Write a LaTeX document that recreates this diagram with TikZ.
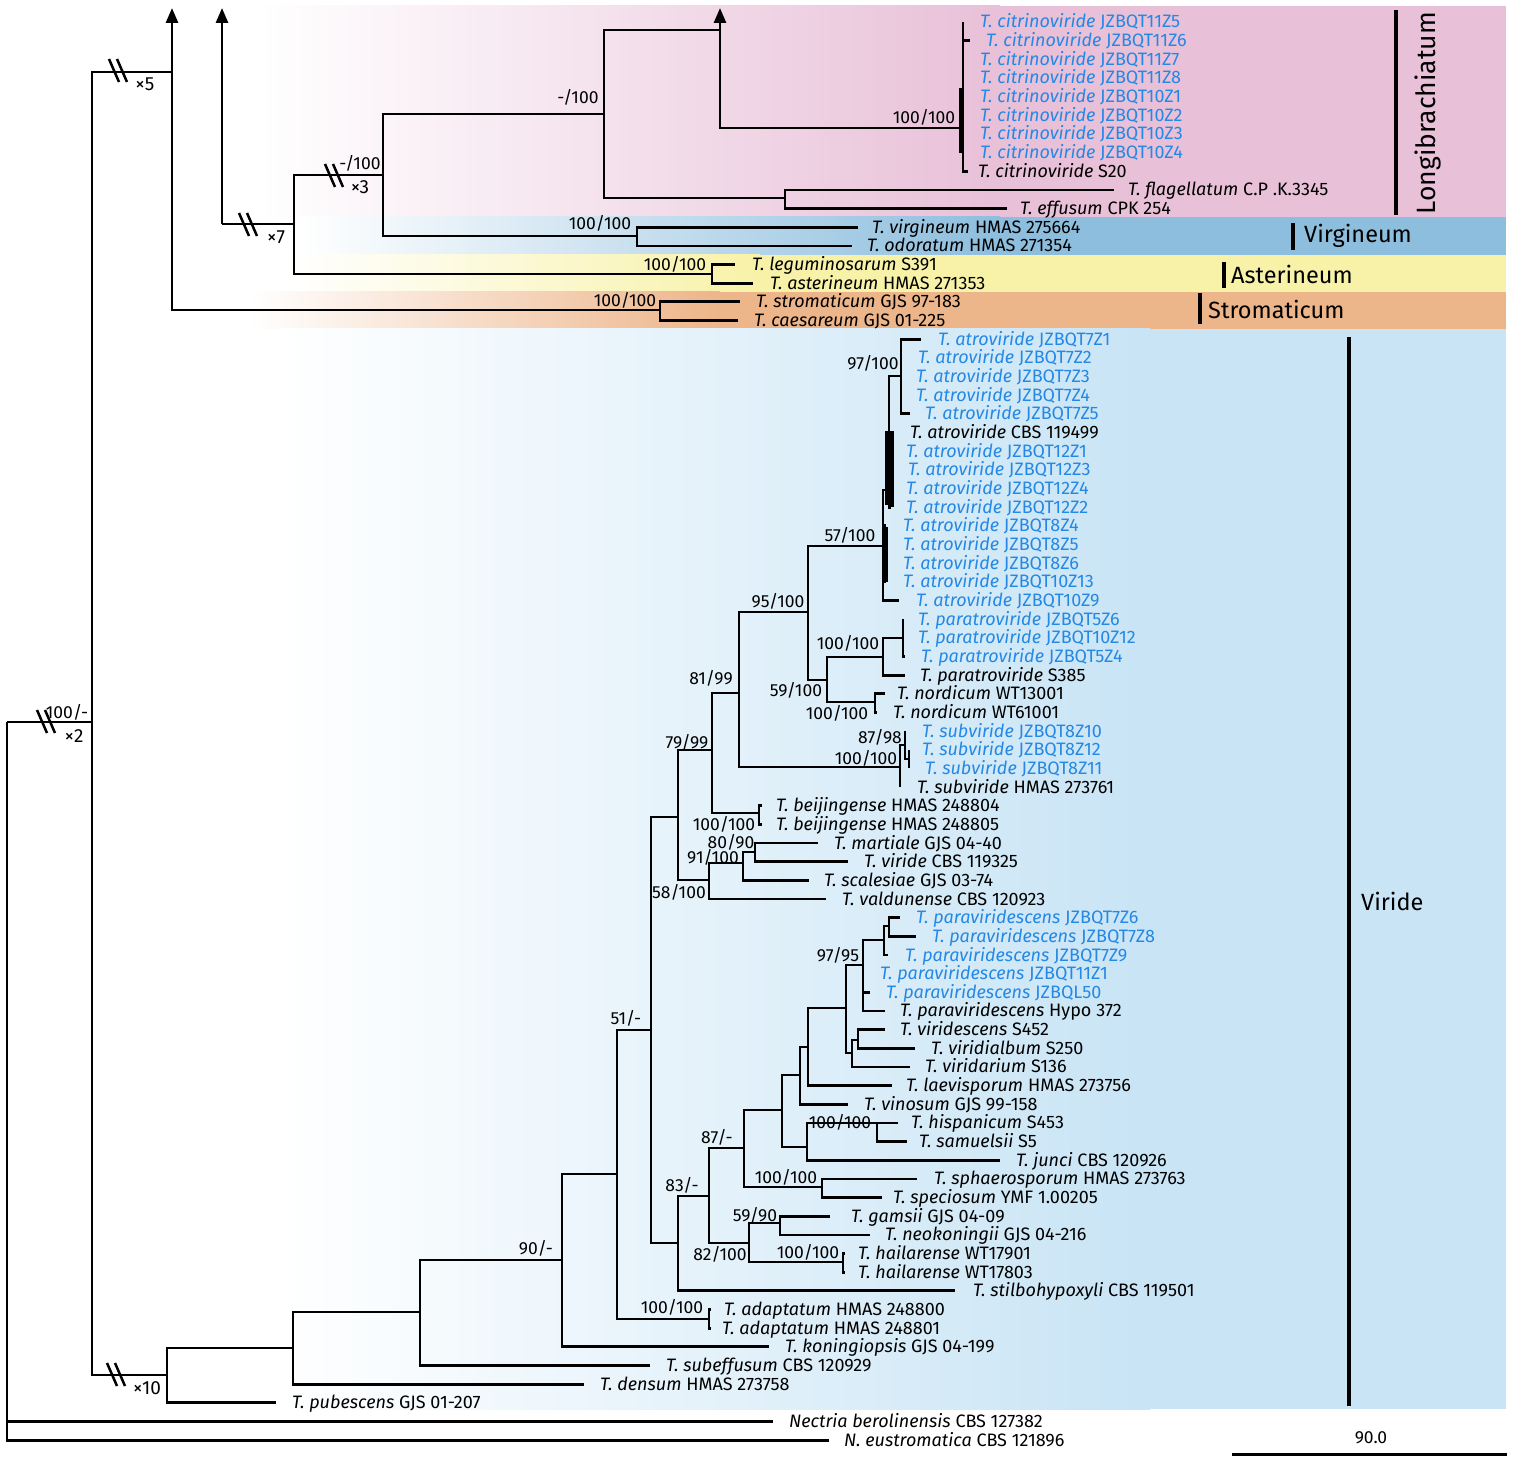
\documentclass[tikz,border=0pt]{standalone}
\usepackage{fontspec}
\setmainfont{Fira Sans}
\usetikzlibrary{arrows.meta,positioning}

\definecolor{tipblue}{RGB}{36,136,228}
\definecolor{longpink}{RGB}{232,192,216}
\definecolor{virgblue}{RGB}{141,190,222}
\definecolor{astyellow}{RGB}{248,242,168}
\definecolor{strorange}{RGB}{237,181,138}
\definecolor{viridblue}{RGB}{200,228,245}

\newcommand{\taxon}[2]{\textit{#1} #2}
% tip: name, row, end of branch, start of text, colour style, label
\newcommand{\tip}[6]{%
  \coordinate (#1) at (#3,22+18.66*#2);
  \node[tiplab,#5] (#1-lab) at (#4,28+18.66*#2) {#6};}
\newcommand{\kids}[2]{\foreach \k in {#2} \draw[branch] (#1) |- (\k);}
\newcommand{\brk}[2]{\draw[brkline] (#1-9,#2-12) -- (#1+1,#2+11) (#1-1,#2-12) -- (#1+9,#2+11);}

\tikzset{
  branch/.style={line width=2.8pt},
  uparrow/.style={branch,-{Triangle[width=12pt,length=15pt]}},
  brkline/.style={line width=2.5pt},
  tiplab/.style={anchor=base west,inner sep=0pt,font=\fontsize{18}{20}\selectfont},
  tipb/.style={text=tipblue},
  tipk/.style={text=black},
  supp/.style={inner sep=0pt,font=\fontsize{17.5}{20}\selectfont},
  times/.style={inner sep=0pt,font=\fontsize{19}{20}\selectfont},
  cladebar/.style={line width=4pt},
  cladelab/.style={inner sep=0pt,font=\fontsize{23.5}{26}\selectfont}
}

\begin{document}
\begin{tikzpicture}[x=1pt,y=-1pt]
 \useasboundingbox (0,0) rectangle (1535,1463);

 % clade bands
 \shade[left color=white,right color=longpink] (260,6) rectangle (1000,217);
 \fill[longpink] (1000,6) rectangle (1506,217);
 \shade[left color=white,right color=virgblue] (300,217) rectangle (1000,255);
 \fill[virgblue] (1000,217) rectangle (1506,255);
 \shade[left color=white,right color=astyellow] (290,255) rectangle (760,292);
 \fill[astyellow] (760,255) rectangle (1506,292);
 \shade[left color=white,right color=strorange] (250,292) rectangle (720,329);
 \fill[strorange] (720,292) rectangle (1506,329);
 \shade[left color=white,right color=viridblue] (280,329) rectangle (1150,1409);
 \fill[viridblue] (1150,329) rectangle (1506,1409);

 % internal nodes
 \coordinate (root) at (7,722);
 \coordinate (ing) at (92,722);
 \coordinate (tg) at (172,72);
 \coordinate (tgtop) at (172,8);
 \coordinate (lb) at (222,224);
 \coordinate (lbtop) at (222,8);
 \coordinate (n294) at (294,224);
 \coordinate (n383) at (383,175);
 \coordinate (n604) at (604,114);
 \coordinate (n720) at (720,30);
 \coordinate (n720top) at (720,8);
 \coordinate (cit) at (963,128);
 \coordinate (fe) at (785,198);
 \coordinate (virg) at (637,236);
 \coordinate (aste) at (712,274);
 \coordinate (strm) at (660,310);

 \coordinate (vg) at (167,1375);
 \coordinate (n293) at (293,1348);
 \coordinate (n420) at (420,1312);
 \coordinate (n562) at (562,1260);
 \coordinate (n617) at (617,1174);
 \coordinate (adap) at (709,1319);
 \coordinate (n651) at (651,1030);
 \coordinate (n678a) at (678,817);
 \coordinate (n712) at (712,750);
 \coordinate (n739) at (739,693);
 \coordinate (n808) at (808,612);
 \coordinate (atr) at (883,546);
 \coordinate (a2) at (889,490);
 \coordinate (a3) at (901,376);
 \coordinate (n827) at (827,680);
 \coordinate (n883) at (883,657);
 \coordinate (pat) at (903,638);
 \coordinate (nor) at (875,702);
 \coordinate (sv) at (900,767);
 \coordinate (sv2n) at (905,745);
 \coordinate (sv3n) at (909,759);
 \coordinate (bei) at (759,813);
 \coordinate (n709a) at (709,880);
 \coordinate (n743) at (743,863);
 \coordinate (n755) at (755,852);
 \coordinate (n678b) at (678,1243);
 \coordinate (n709b) at (709,1196);
 \coordinate (n744) at (744,1148);
 \coordinate (sphn) at (822,1187);
 \coordinate (n782) at (782,1110);
 \coordinate (n807) at (807,1147);
 \coordinate (his2) at (877,1123);
 \coordinate (n800) at (800,1075);
 \coordinate (n808b) at (808,1047);
 \coordinate (n846) at (846,1008);
 \coordinate (n863) at (863,965);
 \coordinate (n884) at (884,940);
 \coordinate (n889) at (889,926);
 \coordinate (n852) at (852,1053);
 \coordinate (n858) at (858,1040);
 \coordinate (n749) at (749,1243);
 \coordinate (n780) at (780,1223);
 \coordinate (hai) at (843,1262);

 % tips
 \tip{c1}{0}{963}{980}{tipb}{\taxon{T. citrinoviride}{JZBQT11Z5}}
 \tip{c2}{1}{970}{986}{tipb}{\taxon{T. citrinoviride}{JZBQT11Z6}}
 \tip{c3}{2}{963}{980}{tipb}{\taxon{T. citrinoviride}{JZBQT11Z7}}
 \tip{c4}{3}{963}{980}{tipb}{\taxon{T. citrinoviride}{JZBQT11Z8}}
 \tip{c5}{4}{963}{980}{tipb}{\taxon{T. citrinoviride}{JZBQT10Z1}}
 \tip{c6}{5}{963}{980}{tipb}{\taxon{T. citrinoviride}{JZBQT10Z2}}
 \tip{c7}{6}{963}{980}{tipb}{\taxon{T. citrinoviride}{JZBQT10Z3}}
 \tip{c8}{7}{963}{980}{tipb}{\taxon{T. citrinoviride}{JZBQT10Z4}}
 \tip{c9}{8}{968}{978}{tipk}{\taxon{T. citrinoviride}{S20}}
 \tip{fla}{9}{1114}{1128}{tipk}{\taxon{T. flagellatum}{C.P .K.3345}}
 \tip{eff}{10}{1007}{1020}{tipk}{\taxon{T. effusum}{CPK 254}}
 \tip{vir}{11}{858}{872}{tipk}{\taxon{T. virgineum}{HMAS 275664}}
 \tip{odo}{12}{852}{867}{tipk}{\taxon{T. odoratum}{HMAS 271354}}
 \tip{leg}{13}{735}{752}{tipk}{\taxon{T. leguminosarum}{S391}}
 \tip{ast}{14}{753}{770}{tipk}{\taxon{T. asterineum}{HMAS 271353}}
 \tip{str}{15}{740}{756}{tipk}{\taxon{T. stromaticum}{GJS 97-183}}
 \tip{cae}{16}{738}{754}{tipk}{\taxon{T. caesareum}{GJS 01-225}}
 \tip{at1}{17}{921}{938}{tipb}{\taxon{T. atroviride}{JZBQT7Z1}}
 \tip{at2}{18}{901}{918}{tipb}{\taxon{T. atroviride}{JZBQT7Z2}}
 \tip{at3}{19}{901}{916}{tipb}{\taxon{T. atroviride}{JZBQT7Z3}}
 \tip{at4}{20}{901}{916}{tipb}{\taxon{T. atroviride}{JZBQT7Z4}}
 \tip{at5}{21}{910}{925}{tipb}{\taxon{T. atroviride}{JZBQT7Z5}}
 \tip{at6}{22}{893}{910}{tipk}{\taxon{T. atroviride}{CBS 119499}}
 \tip{at7}{23}{891}{906}{tipb}{\taxon{T. atroviride}{JZBQT12Z1}}
 \tip{at8}{24}{893}{908}{tipb}{\taxon{T. atroviride}{JZBQT12Z3}}
 \tip{at9}{25}{891}{906}{tipb}{\taxon{T. atroviride}{JZBQT12Z4}}
 \tip{at10}{26}{891}{906}{tipb}{\taxon{T. atroviride}{JZBQT12Z2}}
 \tip{at11}{27}{886}{903}{tipb}{\taxon{T. atroviride}{JZBQT8Z4}}
 \tip{at12}{28}{886}{903}{tipb}{\taxon{T. atroviride}{JZBQT8Z5}}
 \tip{at13}{29}{886}{903}{tipb}{\taxon{T. atroviride}{JZBQT8Z6}}
 \tip{at14}{30}{886}{903}{tipb}{\taxon{T. atroviride}{JZBQT10Z13}}
 \tip{at15}{31}{899}{916}{tipb}{\taxon{T. atroviride}{JZBQT10Z9}}
 \tip{pa1}{32}{903}{918}{tipb}{\taxon{T. paratroviride}{JZBQT5Z6}}
 \tip{pa2}{33}{903}{918}{tipb}{\taxon{T. paratroviride}{JZBQT10Z12}}
 \tip{pa3}{34}{905}{921}{tipb}{\taxon{T. paratroviride}{JZBQT5Z4}}
 \tip{pa4}{35}{905}{920}{tipk}{\taxon{T. paratroviride}{S385}}
 \tip{no1}{36}{885}{897}{tipk}{\taxon{T. nordicum}{WT13001}}
 \tip{no2}{37}{877}{893}{tipk}{\taxon{T. nordicum}{WT61001}}
 \tip{sv1}{38}{905}{922}{tipb}{\taxon{T. subviride}{JZBQT8Z10}}
 \tip{sv2}{39}{909}{922}{tipb}{\taxon{T. subviride}{JZBQT8Z12}}
 \tip{sv3}{40}{909}{925}{tipb}{\taxon{T. subviride}{JZBQT8Z11}}
 \tip{sv4}{41}{900}{917}{tipk}{\taxon{T. subviride}{HMAS 273761}}
 \tip{be1}{42}{762}{776}{tipk}{\taxon{T. beijingense}{HMAS 248804}}
 \tip{be2}{43}{762}{776}{tipk}{\taxon{T. beijingense}{HMAS 248805}}
 \tip{mar}{44}{818}{834}{tipk}{\taxon{T. martiale}{GJS 04-40}}
 \tip{vid}{45}{848}{864}{tipk}{\taxon{T. viride}{CBS 119325}}
 \tip{sca}{46}{809}{824}{tipk}{\taxon{T. scalesiae}{GJS 03-74}}
 \tip{val}{47}{826}{842}{tipk}{\taxon{T. valdunense}{CBS 120923}}
 \tip{pv1}{48}{900}{916}{tipb}{\taxon{T. paraviridescens}{JZBQT7Z6}}
 \tip{pv2}{49}{916}{932}{tipb}{\taxon{T. paraviridescens}{JZBQT7Z8}}
 \tip{pv3}{50}{888}{905}{tipb}{\taxon{T. paraviridescens}{JZBQT7Z9}}
 \tip{pv4}{51}{863}{880}{tipb}{\taxon{T. paraviridescens}{JZBQT11Z1}}
 \tip{pv5}{52}{870}{886}{tipb}{\taxon{T. paraviridescens}{JZBQL50}}
 \tip{pv6}{53}{885}{900}{tipk}{\taxon{T. paraviridescens}{Hypo 372}}
 \tip{vds}{54}{885}{900}{tipk}{\taxon{T. viridescens}{S452}}
 \tip{vda}{55}{915}{931}{tipk}{\taxon{T. viridialbum}{S250}}
 \tip{vdr}{56}{910}{925}{tipk}{\taxon{T. viridarium}{S136}}
 \tip{lae}{57}{892}{906}{tipk}{\taxon{T. laevisporum}{HMAS 273756}}
 \tip{vin}{58}{848}{864}{tipk}{\taxon{T. vinosum}{GJS 99-158}}
 \tip{his}{59}{898}{911}{tipk}{\taxon{T. hispanicum}{S453}}
 \tip{sam}{60}{907}{919}{tipk}{\taxon{T. samuelsii}{S5}}
 \tip{jun}{61}{1000}{1016}{tipk}{\taxon{T. junci}{CBS 120926}}
 \tip{sph}{62}{917}{934}{tipk}{\taxon{T. sphaerosporum}{HMAS 273763}}
 \tip{spc}{63}{882}{893}{tipk}{\taxon{T. speciosum}{YMF 1.00205}}
 \tip{gam}{64}{830}{851}{tipk}{\taxon{T. gamsii}{GJS 04-09}}
 \tip{neo}{65}{870}{885}{tipk}{\taxon{T. neokoningii}{GJS 04-216}}
 \tip{ha1}{66}{845}{858}{tipk}{\taxon{T. hailarense}{WT17901}}
 \tip{ha2}{67}{845}{858}{tipk}{\taxon{T. hailarense}{WT17803}}
 \tip{sti}{68}{955}{973}{tipk}{\taxon{T. stilbohypoxyli}{CBS 119501}}
 \tip{ad1}{69}{711}{724}{tipk}{\taxon{T. adaptatum}{HMAS 248800}}
 \tip{ad2}{70}{711}{722}{tipk}{\taxon{T. adaptatum}{HMAS 248801}}
 \tip{kon}{71}{769}{785}{tipk}{\taxon{T. koningiopsis}{GJS 04-199}}
 \tip{sue}{72}{650}{666}{tipk}{\taxon{T. subeffusum}{CBS 120929}}
 \tip{den}{73}{584}{600}{tipk}{\taxon{T. densum}{HMAS 273758}}
 \tip{pub}{74}{276}{292}{tipk}{\taxon{T. pubescens}{GJS 01-207}}
 \tip{nbe}{75}{773}{789}{tipk}{\taxon{Nectria berolinensis}{CBS 127382}}
 \tip{neu}{76}{829}{844}{tipk}{\taxon{N. eustromatica}{CBS 121896}}

 % branches
 \kids{root}{ing,nbe,neu}
 \kids{ing}{tg,vg}
 \kids{tg}{strm}
 \draw[uparrow] (tg) -- (tgtop);
 \kids{lb}{n294}
 \draw[uparrow] (lb) -- (lbtop);
 \kids{n294}{n383,aste}
 \kids{n383}{n604,virg}
 \kids{n604}{n720,fe}
 \kids{n720}{cit}
 \draw[uparrow] (n720) -- (n720top);
 \kids{cit}{c1,c2,c3,c4,c5,c6,c7,c8,c9}
 \draw[line width=4pt] (961,88) -- (961,153);
 \kids{fe}{fla,eff}
 \kids{virg}{vir,odo}
 \kids{aste}{leg,ast}
 \kids{strm}{str,cae}

 \kids{vg}{n293,pub}
 \kids{n293}{n420,den}
 \kids{n420}{n562,sue}
 \kids{n562}{n617,kon}
 \kids{n617}{n651,adap}
 \kids{adap}{ad1,ad2}
 \kids{n651}{n678a,n678b}
 \kids{n678a}{n712,n709a}
 \kids{n712}{n739,bei}
 \kids{n739}{n808,sv}
 \kids{n808}{atr,n827}
 \kids{atr}{a2,at11,at12,at13,at14,at15}
 \kids{a2}{a3,at6,at7,at8,at9,at10}
 \kids{a3}{at1,at2,at3,at4,at5}
 \draw[line width=3.5pt] (887,431) -- (887,505) (892,431) -- (892,507);
 \draw[line width=3.5pt] (886,527) -- (886,582);
 \kids{n827}{n883,nor}
 \kids{n883}{pat,pa4}
 \kids{pat}{pa1,pa2,pa3}
 \kids{nor}{no1,no2}
 \kids{sv}{sv2n,sv4}
 \kids{sv2n}{sv1,sv3n}
 \kids{sv3n}{sv2,sv3}
 \kids{bei}{be1,be2}
 \kids{n709a}{n743,val}
 \kids{n743}{n755,sca}
 \kids{n755}{mar,vid}
 \kids{n678b}{n709b,sti}
 \kids{n709b}{n744,n749}
 \kids{n744}{n782,sphn}
 \kids{sphn}{sph,spc}
 \kids{n782}{n800,n807}
 \kids{n807}{his2,jun}
 \kids{his2}{his,sam}
 \kids{n800}{n808b,vin}
 \kids{n808b}{n846,lae}
 \kids{n846}{n863,n852}
 \kids{n863}{n884,pv4,pv5,pv6}
 \kids{n884}{n889,pv3}
 \kids{n889}{pv1,pv2}
 \kids{n852}{n858,vdr}
 \kids{n858}{vds,vda}
 \kids{n749}{n780,hai}
 \kids{n780}{gam,neo}
 \kids{hai}{ha1,ha2}

 % broken branches
 \brk{46}{722}
 \brk{118}{71}
 \brk{248}{225}
 \brk{334}{176}
 \brk{116}{1375}

 % support values
 \node[supp] (s-ing) at (67,712) {100/-};
 \node[times] (x-ing) at (74,736) {×2};
 \node[times] (x-tg) at (145,84) {×5};
 \node[times] (x-lb) at (276,237) {×7};
 \node[supp] (s-n383) at (360,163) {-/100};
 \node[times] (x-n383) at (360,187) {×3};
 \node[times] (x-vg) at (147,1388) {×10};
 \node[supp] (s-n604) at (578,97) {-/100};
 \node[supp] (s-cit) at (924,117) {100/100};
 \node[supp] (s-virg) at (600,223) {100/100};
 \node[supp] (s-aste) at (675,264) {100/100};
 \node[supp] (s-strm) at (625,300) {100/100};
 \node[supp] (s-a3) at (873,363) {97/100};
 \node[supp] (s-atr) at (850,535) {57/100};
 \node[supp] (s-n808) at (778,601) {95/100};
 \node[supp] (s-n883) at (848,643) {100/100};
 \node[supp] (s-n739) at (711,678) {81/99};
 \node[supp] (s-n827) at (796,690) {59/100};
 \node[supp] (s-nor) at (837,713) {100/100};
 \node[supp] (s-sv2n) at (880,737) {87/98};
 \node[supp] (s-n712) at (687,742) {79/99};
 \node[supp] (s-sv) at (866,758) {100/100};
 \node[supp] (s-bei) at (724,824) {100/100};
 \node[supp] (s-n755) at (731,842) {80/90};
 \node[supp] (s-n743) at (713,857) {91/100};
 \node[supp] (s-n709a) at (679,892) {58/100};
 \node[supp] (s-n863) at (838,955) {97/95};
 \node[supp] (s-n651) at (626,1018) {51/-};
 \node[supp] (s-his2) at (840,1122) {100/100};
 \node[supp] (s-n744) at (717,1137) {87/-};
 \node[supp] (s-sphn) at (786,1177) {100/100};
 \node[supp] (s-n709b) at (682,1185) {83/-};
 \node[supp] (s-n780) at (755,1215) {59/90};
 \node[supp] (s-hai) at (808,1252) {100/100};
 \node[supp] (s-n749) at (720,1254) {82/100};
 \node[supp] (s-n562) at (536,1248) {90/-};
 \node[supp] (s-adap) at (672,1307) {100/100};

 % clades
 \draw[cladebar] (1396,10) -- (1396,215);
 \node[cladelab,rotate=90,font=\fontsize{26.5}{28}\selectfont] (longi) at (1428,113) {Longibrachiatum};
 \draw[cladebar] (1293,223) -- (1293,250);
 \node[cladelab,anchor=west] (virgi) at (1304,236) {Virgineum};
 \draw[cladebar] (1224,262) -- (1224,288);
 \node[cladelab,anchor=west] (aster) at (1231,274) {Asterineum};
 \draw[cladebar] (1200,293) -- (1200,324);
 \node[cladelab,anchor=west] (stroma) at (1208,309) {Stromaticum};
 \draw[cladebar] (1349,337) -- (1349,1406);
 \node[cladelab,anchor=west] (virid) at (1361,901) {Viride};

 % scale
 \draw[line width=3pt] (1232,1454) -- (1507,1454);
 \node[supp] (scale) at (1371,1438) {90.0};
\end{tikzpicture}
\end{document}
